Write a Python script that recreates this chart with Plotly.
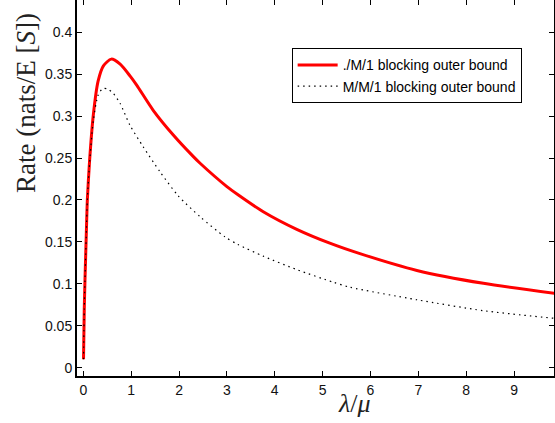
import plotly.graph_objects as go

# Red: ./M/1 blocking outer bound
lam_red = [0.004, 0.02, 0.035, 0.05, 0.065, 0.084, 0.13, 0.21, 0.31, 0.42,
           0.585, 0.77, 0.975, 1.115, 1.46, 1.88, 2.30, 2.44, 3.0, 3.24, 3.76, 4.46,
           5.15, 5.78, 6.97, 8.36, 9.86]
rate_red = [0.010, 0.07, 0.105, 0.135, 0.165, 0.20, 0.246, 0.302, 0.342, 0.360,
            0.368, 0.362, 0.348, 0.337, 0.307, 0.2775, 0.2517, 0.2438, 0.216, 0.206, 0.186, 0.165,
            0.1485, 0.136, 0.116, 0.1006, 0.0885]

# Black dotted: M/M/1 blocking outer bound
lam_blk = [0.004, 0.02, 0.035, 0.05, 0.065, 0.084, 0.13, 0.21, 0.31, 0.41, 0.52,
           0.627, 0.77, 0.976, 1.25, 1.60, 1.985, 2.44, 2.96, 3.23, 3.76, 4.46,
           5.22, 5.57, 6.97, 8.36, 9.82]
rate_blk = [0.010, 0.07, 0.105, 0.135, 0.165, 0.20, 0.243, 0.295, 0.325, 0.333, 0.332,
            0.327, 0.315, 0.289, 0.2636, 0.2338, 0.2048, 0.180, 0.156, 0.147, 0.133, 0.117,
            0.102, 0.096, 0.081, 0.068, 0.059]

x_ticks = [0, 1, 2, 3, 4, 5, 6, 7, 8, 9]
y_ticks = [0, 0.05, 0.1, 0.15, 0.2, 0.25, 0.3, 0.35, 0.4]
y_labels = ["0", "0.05", "0.1", "0.15", "0.2", "0.25", "0.3", "0.35", "0.4"]

fig = go.Figure()
fig.add_trace(go.Scatter(x=lam_red, y=rate_red, mode="lines",
                         name="./M/1 blocking outer bound",
                         line=dict(color="#ff0000", width=3, shape="spline", smoothing=0.7)))
fig.add_trace(go.Scatter(x=lam_blk, y=rate_blk, mode="lines",
                         name="M/M/1 blocking outer bound",
                         line=dict(color="black", width=1.2, dash="1.5px,4px",
                                   shape="spline", smoothing=0.7)))

axis_common = dict(showgrid=False, zeroline=False, showline=True, linecolor="black",
                   linewidth=2, mirror="ticks", ticks="inside", ticklen=5,
                   tickwidth=1, tickcolor="black", automargin=False,
                   tickfont=dict(family="Liberation Sans, Arial", size=14, color="#111"))

fig.update_layout(
    width=555, height=423,
    margin=dict(l=77, r=1, t=0, b=47),
    plot_bgcolor="white", paper_bgcolor="white",
    xaxis=dict(range=[-0.132, 9.835], tickvals=x_ticks, **axis_common),
    yaxis=dict(range=[-0.0099, 0.4385], tickvals=y_ticks, ticktext=y_labels, **axis_common),
    showlegend=True,
    legend=dict(x=0.45, y=0.8715, xanchor="left", yanchor="top",
                bgcolor="white", bordercolor="black", borderwidth=1,
                font=dict(family="Liberation Sans, Arial", size=14, color="black"),
                itemwidth=40, tracegroupgap=0),
    annotations=[
        dict(text="Rate (nats/E [<i>S</i>])", xref="paper", yref="paper",
             x=-0.107, y=0.726, xanchor="center", yanchor="middle", textangle=-90,
             showarrow=False, font=dict(family="Liberation Serif", size=27, color="#222")),
        dict(text="<i>λ</i>/<i>μ</i>", xref="paper", yref="paper",
             x=(354 - 77) / 477, y=-(403 - 376) / 376, xanchor="center", yanchor="middle",
             showarrow=False, font=dict(family="Liberation Serif", size=26, color="#222")),
    ],
)

fig.write_html("out.html", config={"displayModeBar": False},
               post_script="document.body.style.margin='0';")
